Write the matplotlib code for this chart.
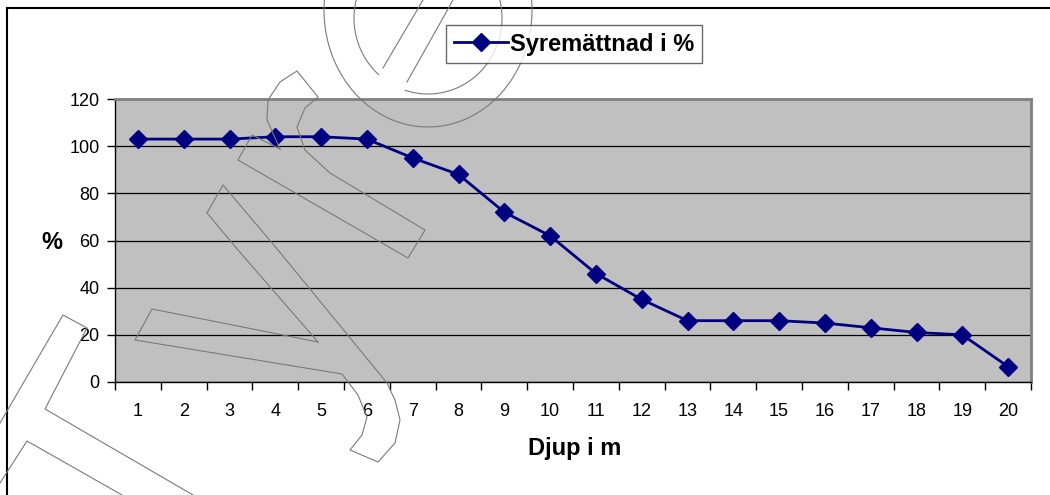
import matplotlib.pyplot as plt
import numpy as np
from matplotlib.lines import Line2D

# Data: oxygen saturation per depth
depths = list(range(1, 21))
saturation = [103, 103, 103, 104, 104, 103, 95, 88, 72, 62,
              46, 35, 26, 26, 26, 25, 23, 21, 20, 6.5]
y_ticks = [0, 20, 40, 60, 80, 100, 120]

W, H = 1050, 495
plt.rcParams['font.family'] = ['Liberation Sans', 'DejaVu Sans']

fig = plt.figure(figsize=(W / 100, H / 100), dpi=100)


def px(x, y):
    # pixel (top-left origin) -> figure fraction
    return x / W, 1 - y / H


# Plot area
left, right, top, bottom = 115, 1031, 99, 382
ax = fig.add_axes([left / W, 1 - bottom / H, (right - left) / W, (bottom - top) / H])
ax.set_facecolor('#C0C0C0')

ax.plot(depths, saturation, color='#000080', linewidth=2,
        marker='D', markersize=9, label='Syremättnad i %', zorder=3)

ax.set_xlim(0.5, 20.5)
ax.set_ylim(0, 120)
ax.set_yticks(y_ticks)
ax.set_yticklabels([str(v) for v in y_ticks], fontsize=13)
ax.yaxis.grid(True, color='black', linewidth=0.9)
ax.set_axisbelow(True)

# category ticks on boundaries, labels centred
ax.set_xticks(np.arange(0.5, 21, 1))
ax.set_xticklabels([])
ax.set_xticks(depths, minor=True)
ax.set_xticklabels([str(d) for d in depths], minor=True, fontsize=13)
ax.tick_params(axis='x', which='major', direction='out', length=6, width=1)
ax.tick_params(axis='x', which='minor', length=0, pad=15)
ax.tick_params(axis='y', direction='out', length=6, width=1, pad=5)

for s in ['top', 'right']:
    ax.spines[s].set_color('#808080')
    ax.spines[s].set_linewidth(2)
for s in ['left', 'bottom']:
    ax.spines[s].set_color('black')
    ax.spines[s].set_linewidth(1)

fig.text(*px(575, 448), 'Djup i m', fontsize=17, fontweight='bold',
         ha='center', va='center')
fig.text(*px(52, 242), '%', fontsize=17, fontweight='bold',
         ha='center', va='center')

leg = fig.legend(loc='center', bbox_to_anchor=px(574, 44),
                 prop={'weight': 'bold', 'size': 17}, frameon=True,
                 fancybox=False, edgecolor='#404040', borderpad=0.3,
                 handlelength=2.3, handletextpad=0.1, borderaxespad=0)
leg.get_frame().set_linewidth(1)

# Outer chart frame
fx0, fy0 = px(7, 8)
fig.add_artist(Line2D([fx0, 1], [fy0, fy0], transform=fig.transFigure,
                      color='black', linewidth=1.5))
fig.add_artist(Line2D([fx0, fx0], [0, fy0], transform=fig.transFigure,
                      color='black', linewidth=1.5))

# Watermark outlines
wm = dict(transform=fig.transFigure, color='#7A7A7A', linewidth=0.8, zorder=5)


def poly(points):
    xs, ys = zip(*[px(x, y) for x, y in points])
    fig.add_artist(Line2D(xs, ys, **wm))


def arc(cx, cy, rx, ry, a0, a1):
    t = np.radians(np.linspace(a0, a1, 80))
    xs = cx + rx * np.cos(t)
    ys = cy + ry * np.sin(t)
    poly(list(zip(xs, ys)))


# circle with slash
arc(428, 10, 104, 117, -10, 190)
arc(428, 18, 74, 76, -15, 108)
arc(428, 18, 74, 76, 132, 195)
poly([(383, 68), (423, 0)])
poly([(407, 82), (453, 0)])

# hook + bar
poly([(280, 149), (252, 135), (238, 160), (408, 258), (425, 230),
      (330, 173), (305, 150), (297, 127), (305, 108), (318, 97), (297, 71),
      (280, 82), (268, 100), (267, 120), (280, 149)])

# long stroke
poly([(318, 342), (152, 309), (135, 340), (342, 374), (358, 395),
      (367, 417), (362, 435), (350, 450), (378, 462), (395, 443),
      (400, 420), (395, 400), (387, 383), (278, 250), (223, 185),
      (207, 213), (238, 250), (318, 342)])

# bottom-left strokes
poly([(0, 423), (63, 315), (87, 328), (45, 409), (193, 495)])
poly([(0, 483), (27, 441), (122, 495)])

fig.savefig('out.png', dpi=100)
